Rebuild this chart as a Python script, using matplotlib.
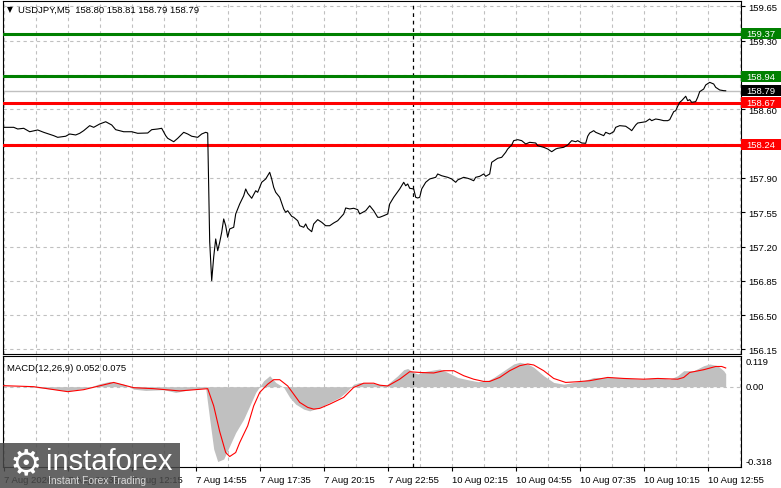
import matplotlib
matplotlib.use("Agg")
import matplotlib.pyplot as plt
import matplotlib.transforms as mtransforms
from matplotlib.patches import Rectangle

plt.rcParams['font.family'] = ['Liberation Sans', 'DejaVu Sans']

# ---- price (close, M5) ----
bar = [0, 5, 7, 10, 13, 17, 20, 25, 27, 31, 33, 36, 38, 40, 43, 45, 48, 51, 54, 56,
       60, 64, 67, 72, 74, 77, 79, 81, 82, 85, 87, 90, 92, 94, 97, 99, 101, 102, 103, 104,
       105, 106, 107, 108, 109, 110, 111, 112, 113, 115, 116, 118, 120, 121, 122, 124, 126, 127, 129, 131,
       132, 133, 134, 135, 136, 138, 140, 141, 142, 144, 145, 147, 148, 150, 151, 152, 154, 155, 157, 159,
       161, 163, 165, 167, 170, 171, 173, 175, 177, 178, 181, 183, 185, 187, 188, 190, 192, 193, 195, 197,
       198, 200, 201, 202, 203, 205, 206, 207, 208, 209, 211, 213, 216, 217, 219, 222, 224, 226, 227, 230,
       232, 233, 235, 236, 238, 240, 241, 243, 244, 246, 247, 249, 251, 252, 254, 255, 257, 259, 261, 263,
       266, 267, 270, 272, 274, 276, 277, 280, 282, 284, 286, 287, 289, 291, 292, 293, 295, 296, 298, 300,
       301, 303, 305, 306, 308, 311, 313, 314, 316, 317, 319, 321, 323, 324, 326, 328, 330, 332, 333, 334,
       335, 336, 337, 338, 339, 341, 342, 343, 344, 346, 347, 348, 350, 351, 353, 355, 356, 358, 360, 361]
close = [158.417, 158.417, 158.400, 158.407, 158.372, 158.390, 158.366, 158.332, 158.315, 158.326,
         158.349, 158.339, 158.356, 158.383, 158.434, 158.417, 158.451, 158.474, 158.441, 158.393,
         158.372, 158.372, 158.356, 158.359, 158.393, 158.400, 158.407, 158.332, 158.305, 158.270,
         158.305, 158.366, 158.349, 158.326, 158.315, 158.349, 158.366, 158.359, 157.250, 156.852,
         157.094, 157.278, 157.158, 157.244, 157.346, 157.482, 157.413, 157.295, 157.380, 157.397,
         157.533, 157.635, 157.719, 157.788, 157.744, 157.693, 157.770, 157.754, 157.856, 157.890,
         157.923, 157.958, 157.890, 157.805, 157.754, 157.703, 157.584, 157.550, 157.566, 157.509,
         157.499, 157.464, 157.413, 157.397, 157.431, 157.387, 157.352, 157.431, 157.475, 157.448,
         157.413, 157.413, 157.441, 157.464, 157.533, 157.594, 157.584, 157.591, 157.577, 157.533,
         157.566, 157.617, 157.566, 157.499, 157.499, 157.515, 157.533, 157.635, 157.703, 157.760,
         157.788, 157.856, 157.821, 157.839, 157.795, 157.788, 157.703, 157.696, 157.703, 157.788,
         157.856, 157.890, 157.907, 157.941, 157.923, 157.907, 157.890, 157.856, 157.880, 157.907,
         157.897, 157.890, 157.872, 157.907, 157.917, 157.941, 157.917, 157.941, 158.060, 158.087,
         158.101, 158.111, 158.162, 158.196, 158.237, 158.281, 158.291, 158.281, 158.247, 158.264,
         158.257, 158.230, 158.213, 158.196, 158.168, 158.196, 158.203, 158.213, 158.237, 158.281,
         158.270, 158.281, 158.257, 158.254, 158.326, 158.359, 158.383, 158.366, 158.349, 158.332,
         158.366, 158.349, 158.372, 158.417, 158.434, 158.428, 158.400, 158.383, 158.441, 158.461,
         158.468, 158.474, 158.502, 158.485, 158.502, 158.495, 158.485, 158.485, 158.495, 158.536,
         158.577, 158.587, 158.632, 158.672, 158.689, 158.734, 158.689, 158.699, 158.672, 158.679,
         158.723, 158.781, 158.808, 158.849, 158.876, 158.859, 158.825, 158.798, 158.791, 158.790]

# ---- MACD(12,26,9) ----
hist_bar = [0, 15, 32, 42, 48, 53, 60, 65, 71, 80, 86, 93, 101, 103, 105, 107, 110, 113, 116, 120,
            123, 126, 130, 133, 136, 140, 143, 146, 150, 153, 158, 163, 168, 171, 175, 178, 186, 191, 193, 197,
            200, 202, 205, 207, 210, 215, 218, 222, 227, 232, 237, 242, 245, 250, 255, 258, 262, 265, 270, 275,
            280, 285, 290, 295, 300, 307, 313, 320, 327, 333, 337, 340, 345, 350, 353, 357, 360, 361]
hist_val = [0.003, -0.002, -0.017, -0.005, 0.012, 0.021, 0.010, -0.010, -0.015, -0.012,
            -0.023, -0.012, -0.006, -0.130, -0.250, -0.300, -0.290, -0.237, -0.184, -0.130,
            -0.077, -0.023, 0.024, 0.044, 0.017, -0.003, -0.043, -0.070, -0.090, -0.097,
            -0.083, -0.063, -0.043, -0.023, 0.010, 0.017, 0.012, 0.005, 0.017, 0.044,
            0.068, 0.073, 0.057, 0.051, 0.060, 0.067, 0.071, 0.057, 0.037, 0.028,
            0.020, 0.024, 0.037, 0.064, 0.091, 0.098, 0.091, 0.078, 0.044, 0.017,
            0.010, 0.017, 0.024, 0.037, 0.037, 0.037, 0.033, 0.030, 0.037, 0.030,
            0.044, 0.064, 0.064, 0.084, 0.091, 0.084, 0.064, 0.052]
sig_bar = [0, 15, 32, 40, 55, 65, 75, 88, 102, 105, 108, 111, 113, 116, 118, 122, 125, 128, 132, 135,
           138, 142, 145, 148, 152, 155, 158, 163, 170, 175, 180, 185, 188, 192, 198, 203, 208, 215, 220, 225,
           230, 235, 240, 243, 248, 253, 258, 262, 265, 270, 275, 281, 287, 293, 302, 310, 320, 327, 337, 340,
           343, 350, 356, 359, 361]
sig_val = [0.004, 0.000, -0.020, -0.012, 0.017, -0.004, -0.008, -0.017, -0.008, -0.077,
           -0.180, -0.264, -0.280, -0.264, -0.224, -0.157, -0.077, -0.023, 0.010, 0.028,
           0.028, 0.003, -0.030, -0.063, -0.083, -0.090, -0.087, -0.070, -0.043, -0.003,
           0.014, 0.014, 0.006, 0.003, 0.030, 0.060, 0.057, 0.055, 0.064, 0.064,
           0.044, 0.030, 0.021, 0.021, 0.037, 0.064, 0.084, 0.091, 0.087, 0.064,
           0.033, 0.017, 0.020, 0.024, 0.037, 0.033, 0.030, 0.033, 0.030, 0.037,
           0.057, 0.068, 0.081, 0.081, 0.075]

# levels drawn on the chart
green_levels = [159.37, 158.94]
red_levels = [158.67, 158.24]
last_price = 158.79

price_ticks = [156.15, 156.50, 156.85, 157.20, 157.55, 157.90, 158.25, 158.60, 158.95, 159.30, 159.65]
hidden_ticks = [158.25, 158.95]   # fully covered by the level boxes
date_ticks = [0, 32, 64, 96, 128, 160, 192, 224, 256, 288, 320, 352]
date_labels = ["7 Aug 2026", "7 Aug 09:35", "7 Aug 12:15", "7 Aug 14:55", "7 Aug 17:35",
               "7 Aug 20:15", "7 Aug 22:55", "10 Aug 02:15", "10 Aug 04:55", "10 Aug 07:35",
               "10 Aug 10:15", "10 Aug 12:55"]
week_sep = 204.5

W, H = 781, 489
GRID = '#c0c0c0'
DASH = (0, (3, 3))
GREEN = '#008000'
RED = '#ff0000'
FS = 6.8

fig = plt.figure(figsize=(W / 100, H / 100), dpi=100)
fig.patch.set_facecolor('white')


def px_axes(x0, y0, x1, y1):
    return fig.add_axes([x0 / W, 1 - y1 / H, (x1 - x0) / W, (y1 - y0) / H])


ax = px_axes(3, 2, 741, 355)
axm = px_axes(3, 357, 741, 468)

xlim = (-0.35, 368.65)

# ---------- main panel ----------
ax.set_xlim(*xlim)
ax.set_ylim(156.104, 159.706)
for k in range(0, 24):
    ax.axvline(16 * k, color=GRID, lw=0.8, ls=DASH, zorder=1)
for p in price_ticks:
    ax.axhline(p, color=GRID, lw=0.8, ls=DASH, zorder=1)
ax.axhline(last_price, color=GRID, lw=1.0, zorder=2)
for p in green_levels:
    ax.axhline(p, color=GREEN, lw=2.2, zorder=3)
for p in red_levels:
    ax.axhline(p, color=RED, lw=2.2, zorder=3)
ax.axvline(week_sep, color='black', lw=0.9, ls=DASH, zorder=2)
ax.plot(bar, close, color='black', lw=0.8, zorder=4)

ax.yaxis.tick_right()
ax.set_yticks(price_ticks)
ax.set_yticklabels(['' if p in hidden_ticks else '%.2f' % p for p in price_ticks])
ax.tick_params(axis='y', direction='out', length=3, width=0.8, pad=2, labelsize=FS, colors='black')
ax.set_xticks([])
for s in ax.spines.values():
    s.set_color('black')
    s.set_linewidth(0.8)

tr = mtransforms.blended_transform_factory(ax.transAxes, ax.transData)
box_h = 11 / 98.0
for p, c in [(159.37, GREEN), (158.94, GREEN), (last_price, 'black'), (158.67, RED), (158.24, RED)]:
    ax.add_patch(Rectangle((1.0, p - box_h / 2), 40 / 738, box_h, transform=tr,
                           facecolor=c, edgecolor='none', clip_on=False, zorder=10))
    ax.text(1.0 + 5 / 738, p, '%.2f' % p, transform=tr, color='white', fontsize=FS,
            va='center', ha='left', clip_on=False, zorder=11)

fig.text(7 / W, 1 - 10 / H, '\u25bc', fontsize=5.5, va='center', ha='left',
         family=['DejaVu Sans'])
fig.text(18 / W, 1 - 10 / H, 'USDJPY,M5  158.80 158.81 158.79 158.79', fontsize=FS,
         va='center', ha='left')

# ---------- MACD panel ----------
axm.set_xlim(*xlim)
axm.set_ylim(-0.322, 0.123)
for k in range(0, 24):
    axm.axvline(16 * k, color=GRID, lw=0.8, ls=DASH, zorder=1)
axm.axhline(0, color=GRID, lw=0.8, ls=DASH, zorder=1)
axm.fill_between(hist_bar, 0, hist_val, color='#c0c0c0', lw=0, zorder=2)
axm.plot(sig_bar, sig_val, color=RED, lw=0.8, zorder=3)
axm.axvline(week_sep, color='black', lw=0.9, ls=DASH, zorder=4)

axm.set_yticks([])
axm.set_xticks(date_ticks)
axm.set_xticklabels(date_labels, ha='left')
axm.tick_params(axis='x', direction='out', length=3, width=0.8, pad=3, labelsize=FS, colors='black')
for s in axm.spines.values():
    s.set_color('black')
    s.set_linewidth(0.8)

ytr = axm.get_yaxis_transform()
axm.text(1.0 + 5 / 738, 0.117, '0.119', transform=ytr, fontsize=FS, va='top', ha='left', clip_on=False)
axm.text(1.0 + 5 / 738, 0.0, '0.00', transform=ytr, fontsize=FS, va='center', ha='left', clip_on=False)
axm.text(1.0 + 5 / 738, -0.316, '-0.318', transform=ytr, fontsize=FS, va='bottom', ha='left', clip_on=False)
axm.text(4 / 738, 0.94, 'MACD(12,26,9) 0.052 0.075', transform=axm.transAxes, fontsize=FS,
         va='top', ha='left')

# ---------- watermark ----------
fig.patches.append(Rectangle((0, 0), 180 / W, 45 / H, transform=fig.transFigure,
                             facecolor='#4a4a4a', alpha=0.85, edgecolor='none', zorder=5))
fig.text(26 / W, 1 - 464 / H, '\u2699', fontsize=26, color='white', ha='center', va='center',
         family=['DejaVu Sans'], zorder=6)
fig.text(46 / W, 1 - 462 / H, 'instaforex', fontsize=21, color='white', ha='left', va='center',
         zorder=6)
fig.text(48 / W, 1 - 481 / H, 'Instant Forex Trading', fontsize=7.5, color='#d8d8d8',
         ha='left', va='center', zorder=6)

fig.savefig('out.png', dpi=100)
